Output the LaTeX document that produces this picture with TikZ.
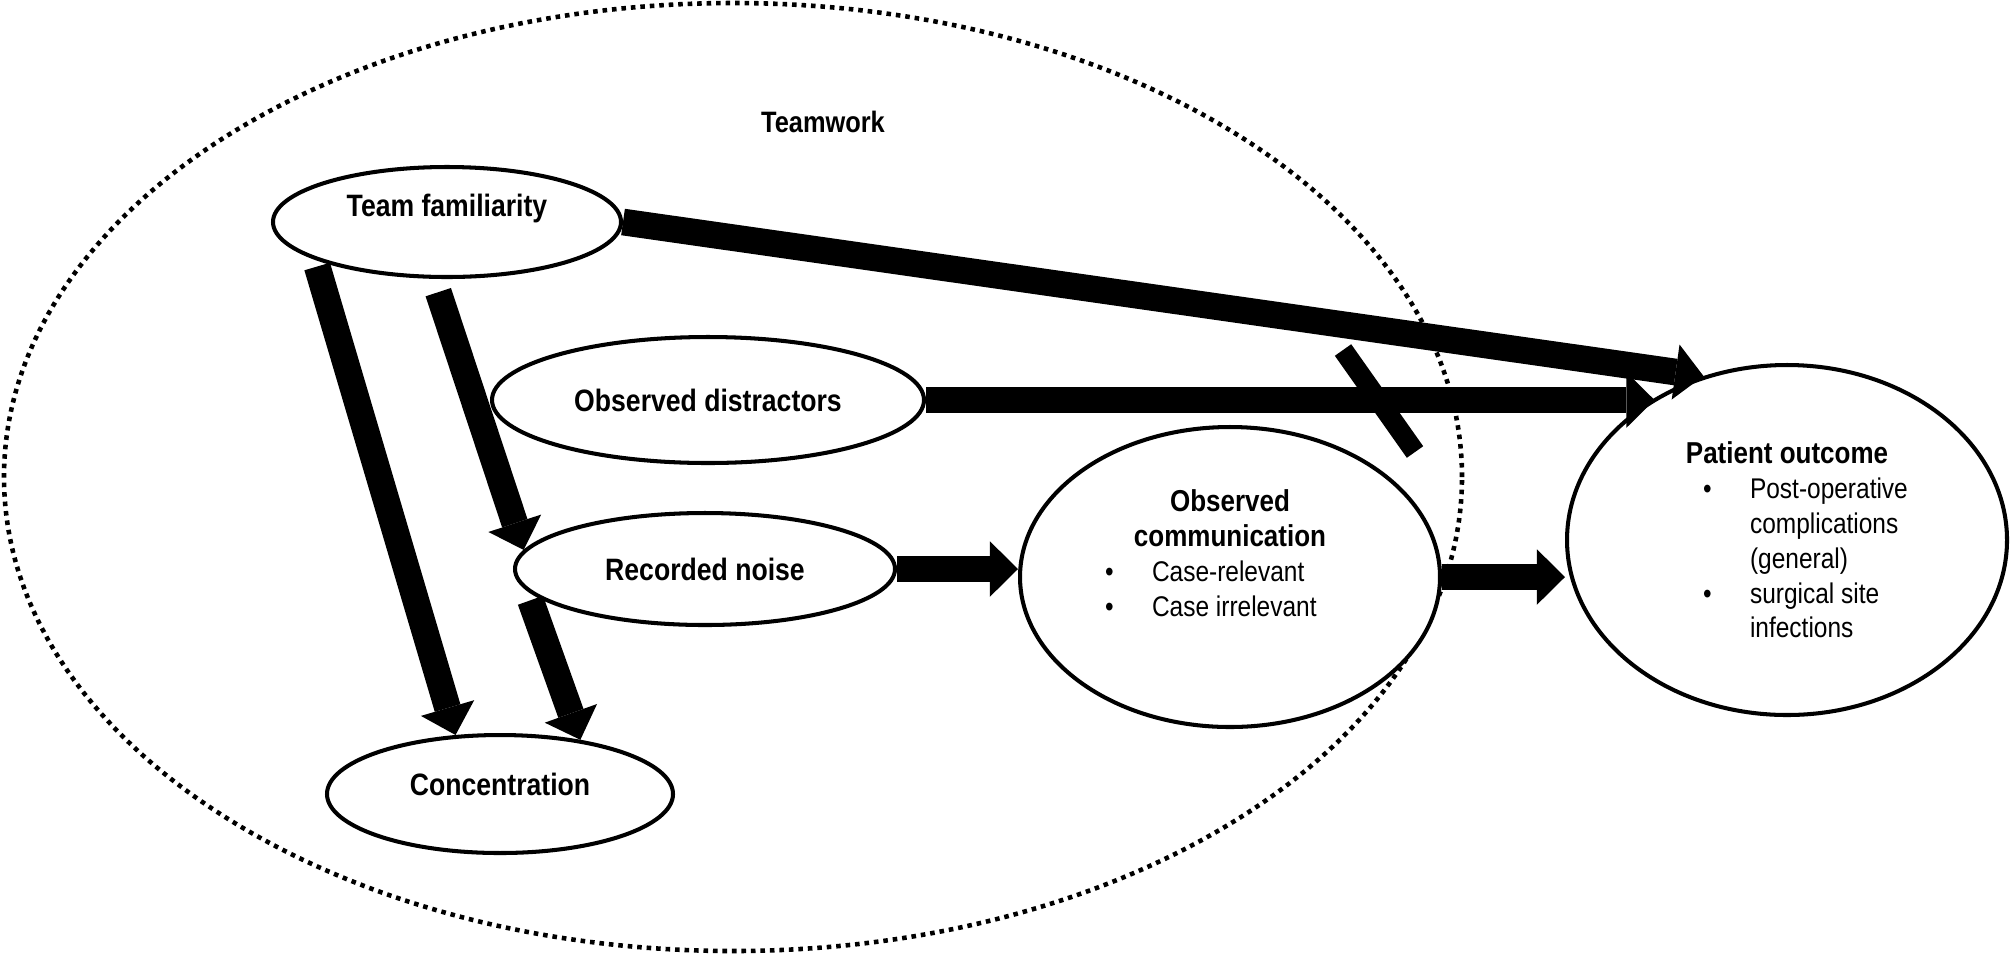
\documentclass[tikz,border=0pt]{standalone}
\usepackage{fontspec}
\setmainfont{Liberation Sans}[FakeStretch=0.86]
\usetikzlibrary{shapes.geometric, arrows.meta, calc}

\newcommand{\ttl}[1]{{\fontsize{8.6}{9.9}\selectfont\bfseries #1}}
\newcommand{\itm}[1]{\makebox[4.7mm][l]{\textbullet}#1}
\newcommand{\listrow}[2]{\makebox[#1][l]{#2}}

\begin{document}
\begin{tikzpicture}[x=0.1mm, y=-0.1mm,
   oval/.style={ellipse, draw, line width=1.15pt, fill=white, inner sep=0pt,
      font=\fontsize{8.8}{10}\selectfont\bfseries},
   zone/.style={ellipse, draw, line width=1.3pt, dash pattern=on 1.3pt off 1.4pt,
      inner sep=0pt, minimum width=145.8mm, minimum height=94.8mm},
   textoval/.style={oval, align=center, font=\fontsize{8.1}{9.9}\selectfont},
   fat/.style={line width=7.6pt, -{Triangle[length=8pt, width=15.8pt, line width=0pt]}},
   crossbar/.style={line width=5.7pt}]
  \useasboundingbox (0,0) rectangle (2011,954);

  \node[zone] (tw) at (733,477) {};
  \node[font=\fontsize{8.4}{10}\selectfont\bfseries] (twl) at (823,122) {Teamwork};

  \node[oval, minimum width=34.8mm, minimum height=11mm, text depth=3.26mm] (tf) at (447,222) {Team familiarity};
  \node[oval, minimum width=43.2mm, minimum height=12.6mm] (od) at (708,400) {Observed distractors};
  \node[oval, minimum width=38mm, minimum height=11.2mm] (rn) at (705,569) {Recorded noise};
  \node[oval, minimum width=34.6mm, minimum height=11.8mm, text depth=2mm] (conc) at (500,794) {Concentration};
  \node[textoval, minimum width=42mm, minimum height=30mm, text depth=4.8mm] (comm) at (1230,577)
     {\ttl{Observed}\\ \ttl{communication}\\
      \listrow{25mm}{\itm{Case-relevant}}\\ \listrow{25mm}{\itm{Case irrelevant}}};
  \node[textoval, minimum width=44mm, minimum height=35mm] (po) at (1787,540)
     {\ttl{Patient outcome}\\
      \listrow{16.8mm}{\itm{Post-operative}}\\
      \listrow{16.8mm}{\hspace*{4.7mm}complications}\\
      \listrow{16.8mm}{\hspace*{4.7mm}(general)}\\
      \listrow{16.8mm}{\itm{surgical site}}\\
      \listrow{16.8mm}{\hspace*{4.7mm}infections}};

  \draw[fat] (tf.east) -- (po.117);
  \draw[fat] (od.east) -- (od.east -| po.133);
  \draw[fat] (rn.east) -- (rn.east -| comm.west);
  \draw[fat] (comm.east) -- (comm.east -| po.west);
  \draw[fat, shorten <=0.7mm] (tf.196) -- (conc.127);
  \draw[fat, shorten <=1.4mm] (tf.257) -- (rn.174);
  \draw[fat, shorten <=1mm] (rn.187) -- (conc.34);
  %
  \draw[crossbar] (1343,350) -- (1415,452);
\end{tikzpicture}
\end{document}
